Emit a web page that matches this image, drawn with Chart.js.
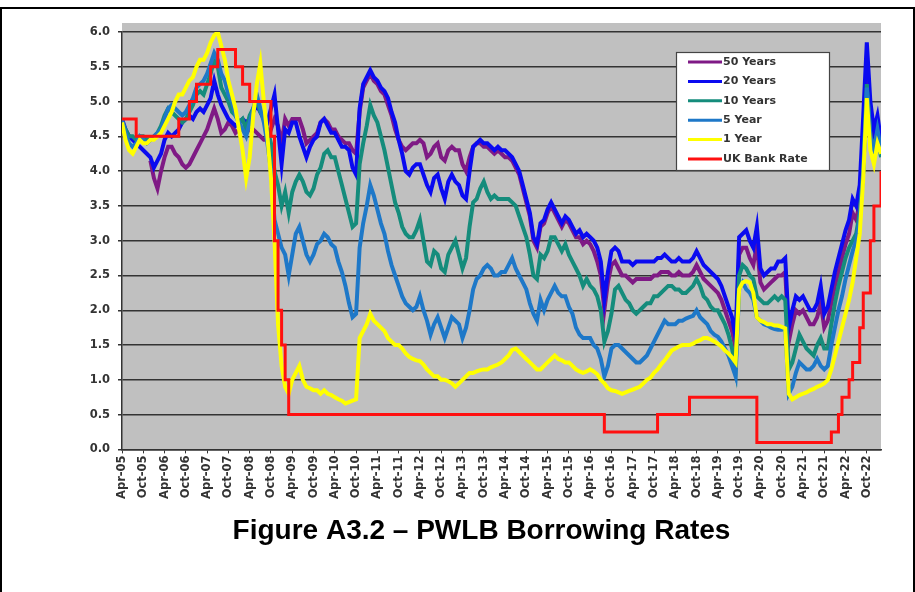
<!DOCTYPE html>
<html>
<head>
<meta charset="utf-8">
<script src="https://cdn.jsdelivr.net/npm/chart.js@4.4.1/dist/chart.umd.min.js"></script>
<style>
  body { margin: 0; background: #fff; }
  #wrap { position: relative; width: 915px; height: 592px; overflow: hidden; }
  #frame { position: absolute; left: 0; top: 7px; width: 911px; height: 600px; border: 2px solid #000; }
  canvas { position: absolute; left: 0; top: 0; }
</style>
</head>
<body>
<div id="wrap">
  <div id="frame"></div>
  <canvas id="myChart" width="915" height="592"></canvas>
</div>
<script>
// tick labels every six months, Apr-05 .. Oct-22
const tickLabels = ['Apr-05','Oct-05','Apr-06','Oct-06','Apr-07','Oct-07','Apr-08','Oct-08','Apr-09','Oct-09',
  'Apr-10','Oct-10','Apr-11','Oct-11','Apr-12','Oct-12','Apr-13','Oct-13','Apr-14','Oct-14',
  'Apr-15','Oct-15','Apr-16','Oct-16','Apr-17','Oct-17','Apr-18','Oct-18','Apr-19','Oct-19',
  'Apr-20','Oct-20','Apr-21','Oct-21','Apr-22','Oct-22'];

// monthly values, one row per year Apr..Mar (last row ends Feb-23)
const fiftyYears = [
  null,null,null,null,null,null,null,null,4.15,3.9,3.75,4.0,
  4.2,4.35,4.35,4.25,4.2,4.1,4.05,4.1,4.2,4.3,4.4,4.5,
  4.6,4.75,4.9,4.75,4.55,4.6,4.7,4.65,4.55,4.6,4.6,4.55,
  4.6,4.6,4.55,4.5,4.45,4.45,4.6,4.75,4.65,4.4,4.75,4.65,
  4.75,4.75,4.75,4.6,4.4,4.45,4.5,4.55,4.7,4.75,4.7,4.6,
  4.6,4.5,4.45,4.4,4.4,4.3,4.25,4.85,5.2,5.3,5.4,5.3,
  5.25,5.15,5.1,4.95,4.8,4.6,4.45,4.35,4.3,4.35,4.4,4.4,
  4.45,4.4,4.2,4.25,4.35,4.4,4.2,4.15,4.3,4.35,4.3,4.3,
  4.1,4.0,4.2,4.35,4.4,4.4,4.35,4.35,4.3,4.25,4.3,4.25,
  4.2,4.2,4.15,4.05,3.95,3.75,3.55,3.35,3.0,2.9,3.2,3.25,
  3.4,3.5,3.4,3.3,3.2,3.3,3.25,3.15,3.05,3.05,2.95,3.0,
  2.95,2.85,2.7,2.5,2.0,2.4,2.65,2.7,2.6,2.5,2.5,2.45,
  2.4,2.45,2.45,2.45,2.45,2.45,2.5,2.5,2.55,2.55,2.55,2.5,
  2.5,2.55,2.5,2.5,2.5,2.55,2.65,2.55,2.45,2.4,2.35,2.3,
  2.25,2.15,2.0,1.85,1.7,1.45,2.8,2.9,2.9,2.75,2.65,2.95,
  2.4,2.3,2.35,2.4,2.45,2.5,2.5,2.55,1.55,1.8,2.0,1.95,
  2.0,1.9,1.8,1.8,1.9,2.1,1.75,1.85,2.1,2.35,2.55,2.75,
  2.95,3.1,3.4,3.3,3.55,4.5,5.4,4.7,4.4,4.6,4.3
];
const twentyYears = [
  4.75,4.6,4.5,4.45,4.4,4.35,4.3,4.25,4.2,4.05,4.15,4.25,
  4.45,4.55,4.5,4.55,4.6,4.7,4.75,4.8,4.75,4.85,4.9,4.85,
  4.95,5.05,5.3,5.1,4.95,4.85,4.75,4.7,4.65,4.7,4.75,4.7,
  4.75,4.85,4.95,4.85,4.75,4.7,4.9,5.1,4.6,4.1,4.6,4.55,
  4.7,4.7,4.5,4.35,4.2,4.35,4.45,4.5,4.7,4.75,4.65,4.55,
  4.55,4.45,4.35,4.35,4.3,4.05,3.95,4.9,5.25,5.35,5.45,5.35,
  5.3,5.2,5.15,5.05,4.85,4.7,4.45,4.25,4.0,3.95,4.05,4.1,
  4.1,3.95,3.8,3.7,3.9,3.95,3.75,3.6,3.85,3.95,3.85,3.8,
  3.65,3.6,4.0,4.35,4.4,4.45,4.4,4.4,4.35,4.3,4.35,4.3,
  4.3,4.25,4.2,4.1,4.0,3.8,3.6,3.4,3.05,2.95,3.25,3.3,
  3.45,3.55,3.45,3.35,3.25,3.35,3.3,3.2,3.1,3.15,3.05,3.1,
  3.05,3.0,2.9,2.7,2.15,2.55,2.85,2.9,2.85,2.7,2.7,2.7,
  2.65,2.7,2.7,2.7,2.7,2.7,2.7,2.75,2.75,2.8,2.75,2.7,
  2.7,2.75,2.7,2.7,2.7,2.75,2.85,2.75,2.65,2.6,2.55,2.5,
  2.45,2.35,2.2,2.05,1.9,1.6,3.05,3.1,3.15,3.0,2.9,3.2,
  2.6,2.5,2.55,2.6,2.6,2.7,2.7,2.75,1.75,2.0,2.2,2.15,
  2.2,2.1,2.0,2.0,2.1,2.35,1.95,2.05,2.3,2.55,2.75,2.95,
  3.15,3.3,3.6,3.5,3.8,4.8,5.85,5.0,4.6,4.8,4.45
];
const tenYears = [
  4.7,4.6,4.5,4.5,4.45,4.5,4.5,4.45,4.45,4.5,4.55,4.65,
  4.8,4.9,4.85,4.8,4.75,4.7,4.75,4.85,4.95,5.1,5.15,5.1,
  5.25,5.4,5.6,5.5,5.2,5.1,5.0,4.85,4.8,4.7,4.75,4.6,
  4.8,4.9,5.0,4.85,4.75,4.6,4.4,4.0,3.8,3.5,3.7,3.4,
  3.7,3.85,3.95,3.85,3.7,3.65,3.75,3.95,4.05,4.25,4.3,4.2,
  4.2,4.0,3.8,3.6,3.4,3.2,3.25,4.1,4.4,4.65,4.95,4.8,
  4.7,4.5,4.3,4.05,3.8,3.55,3.4,3.2,3.1,3.05,3.05,3.15,
  3.3,3.0,2.7,2.65,2.85,2.8,2.6,2.55,2.8,2.9,3.0,2.8,
  2.6,2.75,3.2,3.55,3.6,3.75,3.85,3.7,3.6,3.65,3.6,3.6,
  3.6,3.6,3.55,3.5,3.35,3.2,3.05,2.8,2.5,2.45,2.8,2.75,
  2.85,3.05,3.05,2.95,2.85,2.95,2.8,2.7,2.6,2.5,2.35,2.45,
  2.35,2.3,2.2,2.0,1.55,1.7,1.95,2.3,2.35,2.25,2.15,2.1,
  2.0,1.95,2.0,2.05,2.1,2.1,2.2,2.2,2.25,2.3,2.35,2.35,
  2.3,2.3,2.25,2.25,2.3,2.35,2.45,2.35,2.2,2.15,2.05,2.0,
  2.0,1.9,1.8,1.65,1.45,1.15,2.5,2.65,2.6,2.5,2.45,2.2,
  2.15,2.1,2.1,2.15,2.2,2.15,2.2,2.15,1.15,1.25,1.45,1.65,
  1.55,1.45,1.4,1.35,1.5,1.6,1.45,1.45,1.8,2.1,2.35,2.55,
  2.75,2.9,3.0,3.1,3.4,4.0,5.25,4.5,4.35,4.55,4.2
];
const fiveYear = [
  4.75,4.55,4.4,4.35,4.4,4.5,4.45,4.4,4.45,4.5,4.55,4.6,
  4.75,4.9,4.95,4.9,4.85,4.8,4.85,4.95,5.05,5.2,5.25,5.3,
  5.4,5.55,5.7,5.6,5.4,5.3,5.1,5.0,4.8,4.7,4.6,4.5,
  4.7,4.9,5.1,4.9,4.7,4.4,4.0,3.3,3.1,2.9,2.8,2.5,
  2.8,3.1,3.2,3.0,2.8,2.7,2.8,2.95,3.0,3.1,3.05,2.95,
  2.9,2.7,2.55,2.35,2.1,1.9,1.95,2.9,3.25,3.5,3.8,3.65,
  3.45,3.25,3.1,2.85,2.65,2.5,2.35,2.2,2.1,2.05,2.0,2.05,
  2.2,2.0,1.85,1.65,1.8,1.9,1.75,1.6,1.75,1.9,1.85,1.8,
  1.6,1.75,2.0,2.3,2.45,2.5,2.6,2.65,2.6,2.5,2.5,2.55,
  2.55,2.65,2.75,2.6,2.5,2.4,2.3,2.1,1.95,1.85,2.15,2.0,
  2.15,2.25,2.35,2.25,2.2,2.2,2.05,1.95,1.75,1.65,1.6,1.6,
  1.6,1.5,1.45,1.3,1.05,1.2,1.45,1.5,1.5,1.45,1.4,1.35,
  1.3,1.25,1.25,1.3,1.35,1.45,1.55,1.65,1.75,1.85,1.8,1.8,
  1.8,1.85,1.85,1.88,1.9,1.92,2.0,1.9,1.85,1.8,1.7,1.65,
  1.62,1.55,1.45,1.35,1.2,1.05,2.3,2.4,2.3,2.25,2.15,1.9,
  1.85,1.8,1.78,1.75,1.73,1.72,1.72,1.75,0.8,0.9,1.1,1.25,
  1.2,1.15,1.15,1.2,1.3,1.2,1.15,1.2,1.5,1.75,2.0,2.2,
  2.45,2.65,2.85,3.0,3.3,4.0,5.2,4.5,4.3,4.6,4.3
];
const oneYear = [
  4.7,4.45,4.3,4.25,4.35,4.45,4.4,4.4,4.45,4.45,4.5,4.55,
  4.65,4.75,4.85,5.0,5.1,5.1,5.2,5.3,5.35,5.5,5.6,5.6,
  5.7,5.85,5.95,6.0,5.8,5.6,5.3,5.1,4.9,4.6,4.3,3.9,
  4.2,4.8,5.25,5.55,5.0,4.5,3.9,3.0,1.8,1.2,0.9,0.8,
  1.0,1.1,1.2,1.0,0.9,0.88,0.85,0.85,0.8,0.85,0.8,0.78,
  0.75,0.72,0.7,0.66,0.68,0.7,0.72,1.6,1.7,1.8,1.95,1.85,
  1.8,1.75,1.7,1.6,1.55,1.5,1.5,1.45,1.38,1.33,1.3,1.28,
  1.27,1.22,1.15,1.1,1.05,1.05,1.0,1.0,0.98,0.95,0.9,0.95,
  1.0,1.05,1.1,1.1,1.12,1.14,1.15,1.15,1.18,1.2,1.22,1.25,
  1.3,1.35,1.43,1.45,1.4,1.35,1.3,1.25,1.2,1.15,1.15,1.2,
  1.25,1.3,1.35,1.3,1.28,1.25,1.25,1.2,1.15,1.12,1.1,1.12,
  1.15,1.12,1.08,1.0,0.95,0.88,0.85,0.84,0.82,0.8,0.82,0.84,
  0.86,0.88,0.9,0.95,1.0,1.03,1.1,1.15,1.22,1.28,1.35,1.42,
  1.45,1.48,1.5,1.5,1.5,1.52,1.55,1.57,1.6,1.6,1.58,1.55,
  1.52,1.48,1.42,1.38,1.32,1.25,2.3,2.4,2.42,2.4,2.25,1.9,
  1.85,1.83,1.8,1.8,1.78,1.78,1.76,1.74,0.8,0.72,0.75,0.78,
  0.8,0.82,0.85,0.87,0.9,0.92,0.95,1.0,1.15,1.35,1.55,1.75,
  1.95,2.15,2.4,2.75,3.1,3.9,5.05,4.3,4.1,4.4,4.25
];
const bankRate = [
  4.75,4.75,4.75,4.75,4.5,4.5,4.5,4.5,4.5,4.5,4.5,4.5,
  4.5,4.5,4.5,4.5,4.75,4.75,4.75,5.0,5.0,5.25,5.25,5.25,
  5.25,5.5,5.5,5.75,5.75,5.75,5.75,5.75,5.5,5.5,5.25,5.25,
  5.0,5.0,5.0,5.0,5.0,5.0,4.5,3.0,2.0,1.5,1.0,0.5,
  0.5,0.5,0.5,0.5,0.5,0.5,0.5,0.5,0.5,0.5,0.5,0.5,
  0.5,0.5,0.5,0.5,0.5,0.5,0.5,0.5,0.5,0.5,0.5,0.5,
  0.5,0.5,0.5,0.5,0.5,0.5,0.5,0.5,0.5,0.5,0.5,0.5,
  0.5,0.5,0.5,0.5,0.5,0.5,0.5,0.5,0.5,0.5,0.5,0.5,
  0.5,0.5,0.5,0.5,0.5,0.5,0.5,0.5,0.5,0.5,0.5,0.5,
  0.5,0.5,0.5,0.5,0.5,0.5,0.5,0.5,0.5,0.5,0.5,0.5,
  0.5,0.5,0.5,0.5,0.5,0.5,0.5,0.5,0.5,0.5,0.5,0.5,
  0.5,0.5,0.5,0.5,0.25,0.25,0.25,0.25,0.25,0.25,0.25,0.25,
  0.25,0.25,0.25,0.25,0.25,0.25,0.25,0.5,0.5,0.5,0.5,0.5,
  0.5,0.5,0.5,0.5,0.75,0.75,0.75,0.75,0.75,0.75,0.75,0.75,
  0.75,0.75,0.75,0.75,0.75,0.75,0.75,0.75,0.75,0.75,0.75,0.1,
  0.1,0.1,0.1,0.1,0.1,0.1,0.1,0.1,0.1,0.1,0.1,0.1,
  0.1,0.1,0.1,0.1,0.1,0.1,0.1,0.1,0.25,0.25,0.5,0.75,
  0.75,1.0,1.25,1.25,1.75,2.25,2.25,3.0,3.5,3.5,4.0
];

const months = bankRate.map((v, i) => i);
const tickFont = { family: 'DejaVu Sans', size: 11.5, weight: 'bold' };

// grey plot background, a little taller than the 6.0 line
const plotBg = {
  id: 'plotBg',
  beforeDraw(chart) {
    const { ctx, chartArea: a } = chart;
    ctx.save();
    ctx.fillStyle = '#c0c0c0';
    ctx.fillRect(a.left, a.top - 9, a.right - a.left, a.bottom - a.top + 9);
    ctx.restore();
  }
};

// boxed legend inside the plot, top right
const legendBox = {
  id: 'legendBox',
  afterDraw(chart) {
    const { ctx, chartArea: a } = chart;
    const x = a.right - 205, y = a.top + 20;
    ctx.save();
    ctx.fillStyle = '#ffffff';
    ctx.fillRect(x, y, 153, 118);
    ctx.strokeStyle = '#444';
    ctx.lineWidth = 1.2;
    ctx.strokeRect(x + 0.5, y + 0.5, 153, 118);
    ctx.font = 'bold 11px "DejaVu Sans"';
    ctx.textBaseline = 'middle';
    chart.data.datasets.forEach((ds, k) => {
      const ly = y + 10 + k * 19.4;
      ctx.strokeStyle = ds.borderColor;
      ctx.lineWidth = 3;
      ctx.beginPath();
      ctx.moveTo(x + 12, ly);
      ctx.lineTo(x + 46, ly);
      ctx.stroke();
      ctx.fillStyle = '#333';
      ctx.fillText(ds.label, x + 47, ly);
    });
    ctx.restore();
  }
};

let ctx = document.getElementById('myChart');
let myChart = new Chart(ctx, {
  type: 'line',
  data: {
    labels: months,
    datasets: [
      { label: '50 Years', data: fiftyYears, borderColor: '#7f1a85', order: 6 },
      { label: '20 Years', data: twentyYears, borderColor: '#0a0af0', order: 5 },
      { label: '10 Years', data: tenYears, borderColor: '#158c7c', order: 4 },
      { label: '5 Year', data: fiveYear, borderColor: '#1e78c8', order: 3 },
      { label: '1 Year', data: oneYear, borderColor: '#ffff00', order: 2 },
      { label: 'UK Bank Rate', data: bankRate, borderColor: '#ff1010', order: 1, stepped: true, borderWidth: 3 }
    ]
  },
  options: {
    responsive: false,
    animation: false,
    datasets: { line: { borderWidth: 4, pointRadius: 0, tension: 0, fill: false } },
    layout: { padding: { left: 82, right: 34, top: 32, bottom: 44 } },
    plugins: {
      legend: { display: false },
      tooltip: { enabled: false },
      title: {
        display: true,
        position: 'bottom',
        text: 'Figure A3.2 \u2013 PWLB Borrowing Rates',
        color: '#000',
        font: { family: 'Liberation Sans', size: 28, weight: 'bold', lineHeight: 1.2 },
        padding: { top: 15, bottom: 0 }
      }
    },
    scales: {
      x: {
        type: 'linear',
        min: 0,
        max: months.length - 1,
        afterFit: (s) => { s.height = 50; },
        border: { color: '#333', width: 1.5 },
        grid: { display: true, drawOnChartArea: false, tickLength: 4, color: '#333' },
        ticks: {
          stepSize: 6,
          includeBounds: false,
          autoSkip: false,
          maxRotation: 90,
          minRotation: 90,
          padding: 2,
          color: '#333',
          font: tickFont,
          callback: (v) => tickLabels[v / 6]
        }
      },
      y: {
        min: 0,
        max: 6,
        afterFit: (s) => { s.width = 40; },
        border: { color: '#333', width: 1.5 },
        grid: { color: '#333', lineWidth: 1.5, tickLength: 4 },
        ticks: {
          stepSize: 0.5,
          padding: 8,
          color: '#333',
          font: tickFont,
          callback: (v) => v.toFixed(1)
        }
      }
    }
  },
  plugins: [plotBg, legendBox]
});
</script>
</body>
</html>
